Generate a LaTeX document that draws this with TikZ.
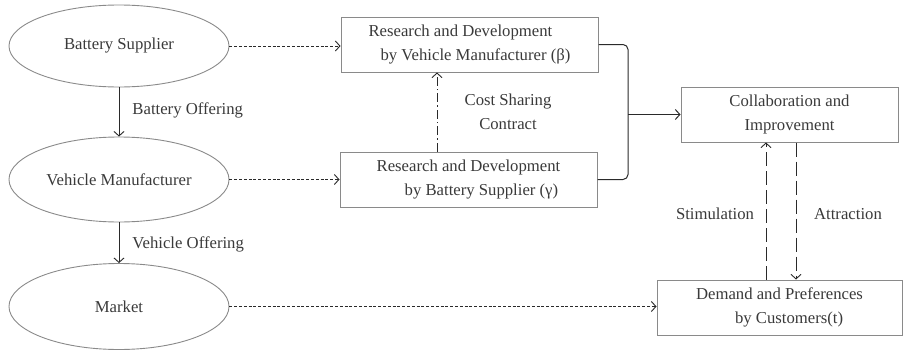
\documentclass[tikz,border=0pt]{standalone}
\usepackage{fontspec}
\setmainfont{Liberation Serif}
\newfontfamily\diagfont{Liberation Serif}
\usetikzlibrary{shapes.geometric,arrows.meta}
\definecolor{txt}{HTML}{3A3A3A}
\definecolor{edge}{HTML}{8A8A8A}
\definecolor{arr}{HTML}{2A2A2A}
\tikzset{
  every node/.style={font=\diagfont\fontsize{16.7}{24}\selectfont, text=txt},
  oval/.style={ellipse, draw=edge, line width=0.9pt, minimum width=220pt, inner sep=0pt},
  boxnode/.style={rectangle, draw=edge, line width=1pt, inner sep=0pt, align=left},
  tip/.style={-{Straight Barb[length=4.5pt,width=10pt]}},
  flow/.style={tip, draw=arr, line width=0.9pt},
  dotflow/.style={flow, dash pattern=on 3pt off 1.8pt},
  longdash/.style={flow, dash pattern=on 14pt off 5pt},
  dashdot/.style={flow, dash pattern=on 9pt off 3pt on 1.5pt off 3pt},
  lbl/.style={inner sep=0pt}
}
\begin{document}
\begin{tikzpicture}[x=1pt,y=-1pt]
\useasboundingbox (0,0) rectangle (903,351);
% ellipses
\node[oval, minimum height=82pt] (bs) at (119,46) {Battery Supplier};
\node[oval, minimum height=85pt] (vm) at (119,179.5) {Vehicle Manufacturer};
\node[oval, minimum height=86pt] (mk) at (119,306.5) {Market};
% boxes
\node[boxnode, minimum width=257pt, minimum height=55pt] (b1) at (469.5,44.5)
  {Research and Development\\\hspace{12pt}by Vehicle Manufacturer (β)};
\node[boxnode, minimum width=257pt, minimum height=55pt] (b2) at (468.5,179.5)
  {Research and Development\\\hspace{28pt}by Battery Supplier (γ)};
\node[boxnode, minimum width=217pt, minimum height=55pt, align=center] (b3) at (789.5,114.5)
  {Collaboration and\\Improvement};
\node[boxnode, minimum width=245pt, minimum height=55pt] (b4) at (779.5,307.5)
  {Demand and Preferences\\\hspace{39pt}by Customers(t)};
% vertical solid arrows
\draw[flow] (bs) -- (vm) node[lbl, midway, anchor=west, xshift=13pt, yshift=2pt] (lbo) {Battery Offering};
\draw[flow] (vm) -- (mk) node[lbl, midway, anchor=west, xshift=13pt, yshift=-2pt] (lvo) {Vehicle Offering};
% dashed arrows
\draw[dotflow] (bs.east) -- (b1.west |- bs.east);
\draw[dotflow] (vm.east) -- (b2.west |- vm.east);
\draw[dotflow] (mk.east) -- (b4.west |- mk.east);
% cost sharing
\coordinate (cs) at (437,0);
\draw[dashdot] (b2.north -| cs) -- (b1.south -| cs);
\node[lbl, align=center] (lcs) at (508,112) {Cost Sharing\\Contract};
% bracket
\coordinate (bx) at (628,112);
\draw[draw=arr, line width=1pt, rounded corners=5pt] (b1.east) -| (bx) |- (b2.east);
\draw[flow, line width=1pt] (b3.west -| bx) -- (b3.west);
% stimulation / attraction
\coordinate (sx) at (766,0);
\coordinate (ax) at (796,0);
\draw[longdash] (b4.north -| sx) -- (b3.south -| sx);
\draw[longdash] (b3.south -| ax) -- (b4.north -| ax);
\node[lbl] (lst) at (715,214) {Stimulation};
\node[lbl] (lat) at (848,214) {Attraction};
\end{tikzpicture}
\end{document}
